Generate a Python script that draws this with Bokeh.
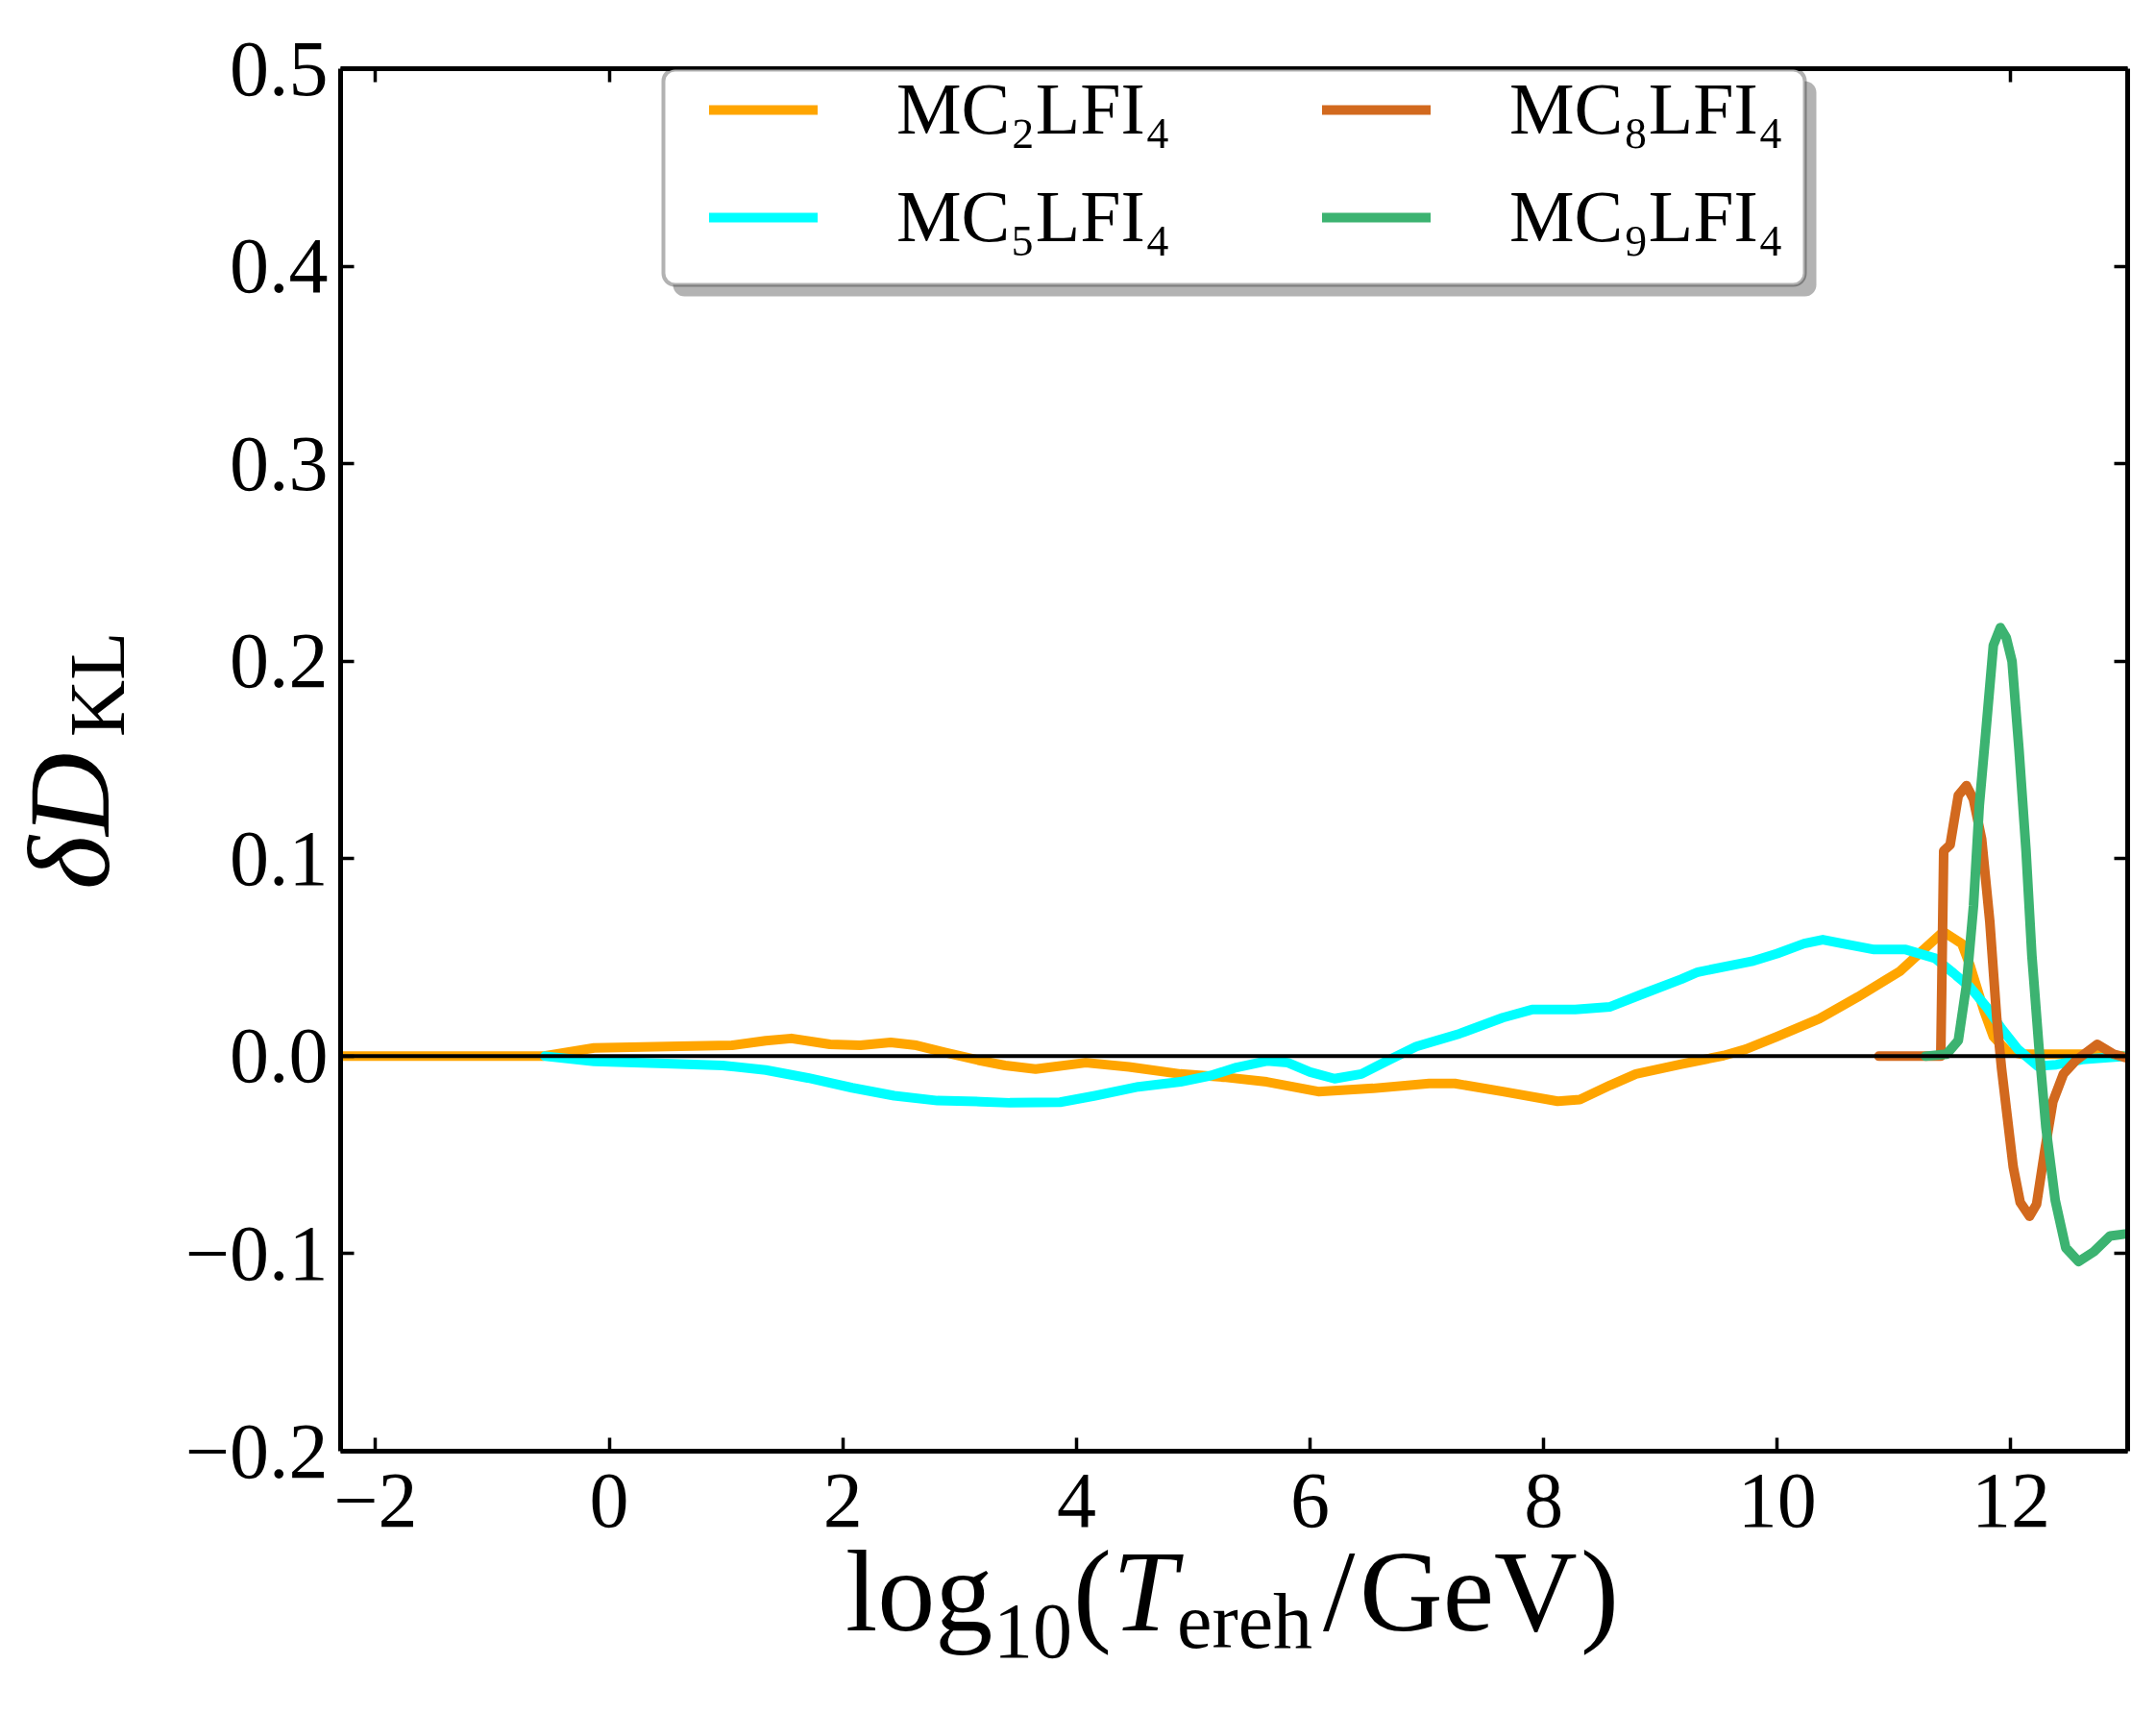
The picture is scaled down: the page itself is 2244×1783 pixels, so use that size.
import math
from bokeh.plotting import figure
from bokeh.layouts import column
from bokeh.models import (LinearAxis, FixedTicker, CustomJSTickFormatter, Div,
                          Legend, LegendItem, BoxAnnotation, Span, Range1d)
from bokeh.embed import file_html
from bokeh.resources import INLINE

# ---------------- data ----------------
mc2_x = [-2.3, -1.5, -0.57, -0.13, 0.60, 1.05, 1.34, 1.56, 1.89, 2.15, 2.41, 2.63,
         2.88, 3.18, 3.39, 3.65, 4.08, 4.45, 4.89, 5.26, 5.63, 6.07, 6.54, 7.02,
         7.24, 7.65, 8.12, 8.31, 8.57, 8.79, 9.18, 9.54, 9.73, 10.0, 10.36, 10.69,
         11.05, 11.18, 11.42, 11.58, 11.65, 11.77, 11.85, 11.97, 12.1, 12.6, 13.0]
mc2_y = [0.0, 0.0, 0.0, 0.0042, 0.005, 0.0055, 0.0078, 0.009, 0.006, 0.0055, 0.007, 0.0055,
         0.0018, -0.0023, -0.0047, -0.0065, -0.0033, -0.0054, -0.009, -0.0106, -0.013, -0.0179,
         -0.0163, -0.0138, -0.0138, -0.0179, -0.0228, -0.022, -0.0147, -0.009, -0.004, 0.0003,
         0.0035, 0.010, 0.019, 0.030, 0.043, 0.050, 0.063, 0.057, 0.046, 0.023, 0.010, 0.0025,
         0.001, 0.001, 0.0]

mc5_x = [-0.55, -0.13, 0.42, 0.97, 1.34, 1.70, 2.08, 2.44, 2.81, 3.18, 3.43, 3.86, 4.16,
         4.53, 4.89, 5.15, 5.37, 5.63, 5.81, 6.0, 6.21, 6.44, 6.66, 6.91, 7.28, 7.65, 7.90,
         8.27, 8.57, 8.86, 9.18, 9.32, 9.78, 10.0, 10.23, 10.39, 10.56, 10.83, 11.10, 11.35,
         11.51, 11.65, 11.79, 11.92, 12.06, 12.23, 12.39, 12.61, 13.0]
mc5_y = [0.0, -0.0026, -0.0036, -0.0047, -0.007, -0.011, -0.016, -0.020, -0.0225, -0.023,
         -0.0236, -0.0233, -0.020, -0.0155, -0.013, -0.0098, -0.0057, -0.0024, -0.0033, -0.008,
         -0.0114, -0.009, -0.0024, 0.0049, 0.0114, 0.0195, 0.0236, 0.0236, 0.025, 0.0318, 0.039,
         0.0426, 0.048, 0.052, 0.057, 0.059, 0.057, 0.054, 0.054, 0.0496, 0.042, 0.035, 0.025,
         0.014, 0.0035, -0.005, -0.0043, -0.0017, 0.0]

mc8_x = [10.87, 11.40, 11.425, 11.48, 11.55, 11.62, 11.68, 11.75, 11.82, 11.88, 11.92,
         11.97, 12.02, 12.08, 12.16, 12.22, 12.29, 12.36, 12.45, 12.56, 12.74, 12.88, 13.0]
mc8_y = [0.0, 0.0, 0.104, 0.107, 0.132, 0.137, 0.130, 0.110, 0.068, 0.0185, -0.006,
         -0.031, -0.056, -0.074, -0.081, -0.075, -0.048, -0.023, -0.009, -0.002, 0.006,
         0.001, -0.001]

mc9_x = [11.27, 11.45, 11.55, 11.62, 11.68, 11.73, 11.79, 11.85, 11.91, 11.96, 12.01,
         12.07, 12.13, 12.18, 12.24, 12.30, 12.38, 12.47, 12.58, 12.71, 12.85, 12.98]
mc9_y = [0.0, 0.001, 0.008, 0.036, 0.076, 0.127, 0.167, 0.208, 0.217, 0.212, 0.200,
         0.155, 0.104, 0.051, 0.005, -0.036, -0.073, -0.097, -0.104, -0.099, -0.091, -0.090]

series_labels = ["MC\u2082LFI\u2084", "MC\u2085LFI\u2084", "MC\u2088LFI\u2084", "MC\u2089LFI\u2084"]
series_colors = ["#ffa500", "#00ffff", "#d2691e", "#3cb371"]

x_ticks = [-2, 0, 2, 4, 6, 8, 10, 12]
y_ticks = [-0.2, -0.1, 0.0, 0.1, 0.2, 0.3, 0.4, 0.5]
X0, X1 = -2.3, 13.0
Y0, Y1 = -0.2, 0.5

# ---------------- layout geometry (pixels) ----------------
W, H = 2228, 1765          # whole block
HM = 1632                  # main figure height
HX = H - HM                # x-title strip height
FL, FR, FT, FB = 354, 2214, 71, 1510   # frame edges

FONT = "Liberation Serif"

p = figure(width=W, height=HM, output_backend="svg", toolbar_location=None,
           x_range=Range1d(X0, X1), y_range=Range1d(Y0, Y1),
           min_border_left=FL, min_border_right=W - FR,
           min_border_top=FT, min_border_bottom=HM - FB)
p.grid.visible = False
p.outline_line_color = None
p.background_fill_color = "white"
p.border_fill_color = "white"


def px2x(px):
    return X0 + (px - FL) / (FR - FL) * (X1 - X0)


def px2y(py):
    return Y1 - (py - FT) / (FB - FT) * (Y1 - Y0)


x_fmt = CustomJSTickFormatter(code="return (tick < 0 ? '\u2212' : '') + Math.abs(tick).toFixed(0);")
y_fmt = CustomJSTickFormatter(code="return (tick < -1e-9 ? '\u2212' : '') + Math.abs(tick).toFixed(1);")
blank = CustomJSTickFormatter(code="return '';")


def style_axis(ax, ticks, fmt, show):
    ax.ticker = FixedTicker(ticks=ticks)
    ax.formatter = fmt
    ax.axis_line_color = "black"
    ax.axis_line_width = 5
    ax.major_tick_in = 14
    ax.major_tick_out = 0
    ax.major_tick_line_width = 3.5
    ax.major_tick_line_color = "black"
    ax.minor_tick_line_color = None
    ax.major_label_text_font = FONT
    ax.major_label_text_color = "black"
    if show:
        ax.major_label_text_font_size = "82px"
    else:
        ax.major_label_text_font_size = "0px"
        ax.major_label_standoff = 0


style_axis(p.xaxis[0], x_ticks, x_fmt, True)
style_axis(p.yaxis[0], y_ticks, y_fmt, True)
p.xaxis[0].major_label_standoff = 24
p.yaxis[0].major_label_standoff = 13
top_ax = LinearAxis()
right_ax = LinearAxis()
style_axis(top_ax, x_ticks, blank, False)
style_axis(right_ax, y_ticks, blank, False)
p.add_layout(top_ax, "above")
p.add_layout(right_ax, "right")

# ---------------- lines ----------------
rends = []
for xs, ys, col in [(mc2_x, mc2_y, series_colors[0]), (mc5_x, mc5_y, series_colors[1]),
                    (mc8_x, mc8_y, series_colors[2]), (mc9_x, mc9_y, series_colors[3])]:
    r = p.line(xs, ys, line_color=col, line_width=10, line_join="round", line_cap="round")
    rends.append(r)

p.add_layout(Span(location=0, dimension="width", line_color="black", line_width=4))

# ---------------- legend box with shadow (kept inside the plotting frame) ----------------
BOX_T, BOX_B, BOX_L, BOX_R = 72, 296, 690, 1878
ROW2 = 227   # centre of the second legend row
shadow = BoxAnnotation(left=px2x(BOX_L + 10), right=px2x(BOX_R + 12),
                       top=px2y(BOX_T + 12), bottom=px2y(BOX_B + 12),
                       fill_color="#b3b3b3", fill_alpha=1.0, line_color=None)
box = BoxAnnotation(left=px2x(BOX_L), right=px2x(BOX_R), top=px2y(BOX_T), bottom=px2y(BOX_B),
                    fill_color="white", fill_alpha=1.0, line_color="black", line_width=4)
if "border_radius" in BoxAnnotation.properties():
    box.border_radius = 12
    shadow.border_radius = 12
p.add_layout(shadow)
p.add_layout(box)


def make_legend(items, left_px):
    return Legend(items=items, location=(left_px - FL, FB - (ROW2 + 42)),
                  border_line_color=None, background_fill_alpha=0.0,
                  padding=0, margin=0, spacing=25,
                  glyph_width=113, glyph_height=84, label_height=84,
                  label_standoff=82, label_text_font=FONT, label_text_font_size="76px",
                  label_text_color="black")


legA = make_legend([LegendItem(label=series_labels[0], renderers=[rends[0]]),
                    LegendItem(label=series_labels[1], renderers=[rends[1]])], 738)
legB = make_legend([LegendItem(label=series_labels[2], renderers=[rends[2]]),
                    LegendItem(label=series_labels[3], renderers=[rends[3]])], 1376)
p.add_layout(legA)
p.add_layout(legB)

# ---------------- axis titles (HTML text with real sub/italics) ----------------
ASC = 0.8375   # baseline offset in a line box of line-height 1 for Liberation Serif


def span_html(txt, left, top, fs, style, rotate=False):
    css = (f"position:absolute;left:{left:.1f}px;top:{top:.1f}px;font-family:'{FONT}';"
           f"font-size:{fs}px;line-height:{fs}px;font-style:{style};white-space:nowrap;color:black;")
    if rotate:
        css += "transform-origin:0 0;transform:rotate(-90deg);"
    return f'<span style="{css}">{txt}</span>'


xlabel_parts = [("log", 875, 1692, 120, "normal"), ("10", 1029, 1721, 82, "normal"),
                ("(", 1112, 1692, 120, "normal"), ("T", 1153, 1692, 120, "italic"),
                ("ereh", 1220, 1711, 82, "normal"), ("/", 1372, 1692, 120, "normal"),
                ("GeV", 1410, 1692, 120, "normal"), (")", 1640, 1692, 120, "normal")]
ylabel_parts = [("\u03b4", 108, 921, 120, "italic"), ("D", 108, 865, 120, "italic"),
                ("KL", 125, 762, 82, "normal")]

spans = "".join(span_html(t, px, py - HM - ASC * fs, fs, st)
                for t, px, py, fs, st in xlabel_parts)
spans += "".join(span_html(t, bx - ASC * fs, sy - HM, fs, st, rotate=True)
                 for t, bx, sy, fs, st in ylabel_parts)
tdiv = Div(text=f'<div style="position:relative;width:{W}px;height:{HX}px;overflow:visible;">{spans}</div>',
           width=W, height=HX, styles={"overflow": "visible", "z-index": "5"})

layout = column(p, tdiv, spacing=0)
open("out.html", "w", encoding="utf-8").write(file_html(layout, INLINE))
